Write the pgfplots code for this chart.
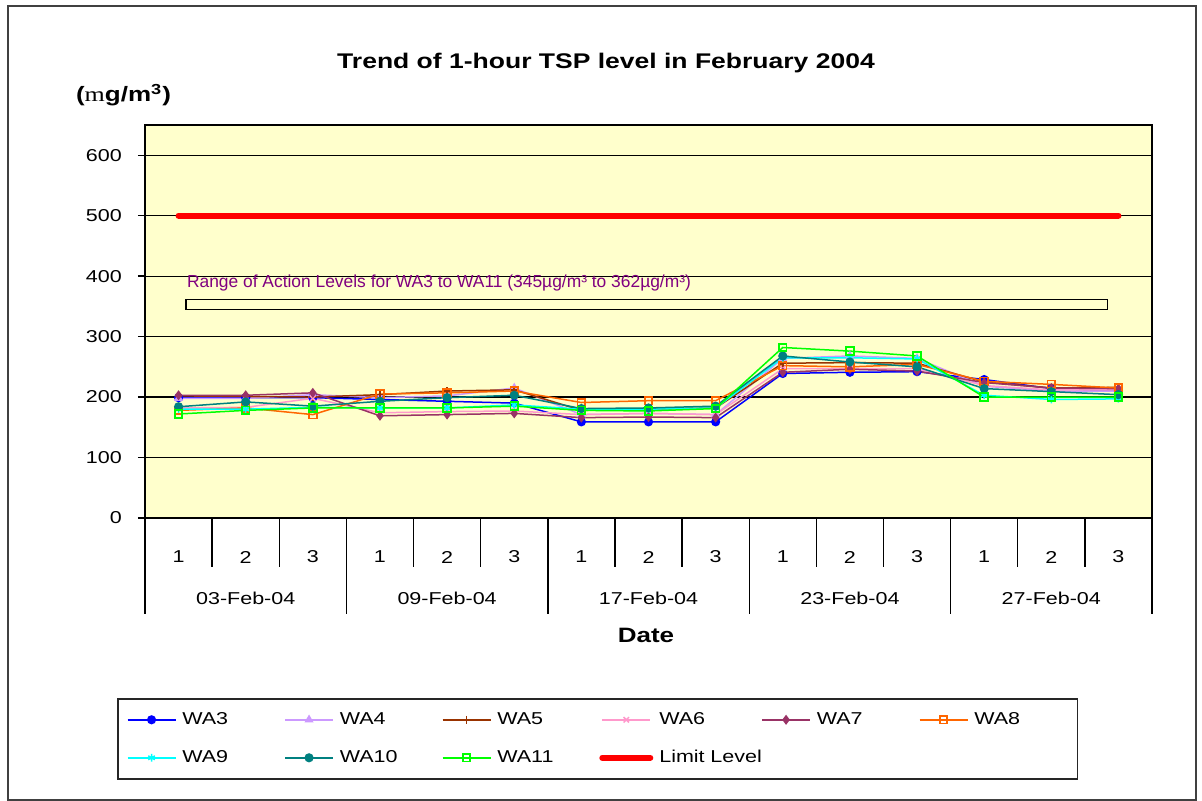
\documentclass[border=0pt]{standalone}
\usepackage{fontspec}
\setmainfont{Liberation Sans}[FakeStretch=1.25]
\newfontfamily\plainsans{Liberation Sans}
\newfontfamily\serifm{Liberation Serif}[FakeStretch=1.25]
\usepackage{pgfplots}
\usepackage{pgfplotstable}
\pgfplotsset{compat=1.18}

\definecolor{bgyel}{RGB}{255,255,204}
\definecolor{waA}{RGB}{0,0,255}
\definecolor{waB}{RGB}{204,153,255}
\definecolor{waC}{RGB}{153,51,0}
\definecolor{waD}{RGB}{255,153,204}
\definecolor{waE}{RGB}{153,51,102}
\definecolor{waF}{RGB}{255,102,0}
\definecolor{waG}{RGB}{0,255,255}
\definecolor{waH}{RGB}{0,128,128}
\definecolor{waI}{RGB}{0,255,0}
\definecolor{actpurple}{RGB}{128,0,128}

% 1-hour TSP, three samples per monitoring day
\pgfplotstableread{
x  wa3 wa4 wa5 wa6 wa7 wa8 wa9 wa10 wa11 lim
0  199 198 202 182 203 178 180 184 172 500
1  199 198 201 183 203 182 180 192 178 500
2  199 204 200 198 207 171 183 185 182 500
3  196 199 204 174 169 205 182 193 182 500
4  193 202 210 176 171 207 182 199 182 500
5  190 215 212 177 173 210 187 203 185 500
6  159 171 178 171 166 191 180 181 178 500
7  159 173 180 173 167 194 180 182 177 500
8  159 171 182 171 166 194 182 185 181 500
9  239 264 256 247 241 252 265 268 282 500
10 241 268 257 247 246 250 265 258 276 500
11 242 264 256 247 243 254 263 250 268 500
12 229 218 225 219 224 226 203 214 200 500
13 214 210 215 212 215 221 196 209 200 500
14 210 210 216 212 214 215 197 204 200 500
}\tspdata

\begin{document}
\begin{tikzpicture}
\path[use as bounding box] (0pt,0pt) rectangle (601pt,400.5pt);
\draw[black!75, line width=0.8pt] (4pt,0.5pt) rectangle (598pt,397.5pt);

\begin{axis}[
  at={(72.5pt,141.5pt)}, anchor=south west,
  scale only axis, width=503.5pt, height=196.5pt,
  xmin=-0.5, xmax=14.5, ymin=0, ymax=650,
  xtick={0,...,14},
  xticklabels={1,2,3,1,2,3,1,2,3,1,2,3,1,2,3},
  xtick style={draw=none},
  xticklabel style={anchor=center, yshift=-16pt},
  ytick={0,100,...,600}, ytick pos=left,
  tick align=outside, major tick length=3.5pt,
  ytick style={black, line width=0.7pt},
  yticklabel style={xshift=-4.6pt},
  ymajorgrids, major grid style={black, line width=0.6pt},
  axis line style={black, line width=0.8pt},
  axis background/.style={fill=bgyel},
  tick label style={font=\fontsize{8.6}{10}\selectfont},
  /pgf/number format/assume math mode=true,
  clip=false,
  every axis plot/.append style={line width=0.75pt, mark size=1.9pt},
  legend columns=6,
  legend image code/.code={\draw[mark repeat=2,mark phase=2] plot coordinates {(0pt,0pt) (12pt,0pt) (24pt,0pt)};},
  legend style={at={(axis description cs:-0.0278,-0.458)}, anchor=north west,
    draw=black!85, line width=0.8pt, inner sep=4.5pt, row sep=7pt,
    font=\fontsize{8.6}{10}\selectfont,
    nodes={text width=44pt, align=left, inner xsep=3pt, inner ysep=2pt, text height=6.5pt, text depth=1.5pt},
    /tikz/every even column/.append style={column sep=4pt}},
]
\addplot[waA, mark=*, mark options={fill=waA}] table[x=x,y=wa3]{\tspdata};
\addlegendentry{WA3}
\addplot[waB, mark=triangle*, mark options={fill=waB}] table[x=x,y=wa4]{\tspdata};
\addlegendentry{WA4}
\addplot[waC, mark=+] table[x=x,y=wa5]{\tspdata};
\addlegendentry{WA5}
\addplot[waD, mark=x] table[x=x,y=wa6]{\tspdata};
\addlegendentry{WA6}
\addplot[waE, mark=diamond*, mark options={fill=waE}] table[x=x,y=wa7]{\tspdata};
\addlegendentry{WA7}
\addplot[waF, mark=square, mark options={line width=0.9pt}] table[x=x,y=wa8]{\tspdata};
\addlegendentry{WA8}
\addplot[waG, mark=asterisk] table[x=x,y=wa9]{\tspdata};
\addlegendentry{WA9}
\addplot[waH, mark=*, mark options={fill=waH}] table[x=x,y=wa10]{\tspdata};
\addlegendentry{WA10}
\addplot[waI, mark=square, mark options={line width=0.9pt}] table[x=x,y=wa11]{\tspdata};
\addlegendentry{WA11}
\addplot[red, line width=3pt, no markers, line cap=round] table[x=x,y=lim]{\tspdata};
\addlegendentry{\makebox[44pt][l]{Limit Level}}

% action level band
\draw[black, line width=0.6pt] (axis cs:0.11,345) rectangle (axis cs:13.84,362);
\node[anchor=west, inner sep=0pt, text=actpurple, font=\plainsans\fontsize{8.7}{10}\selectfont]
  at (axis cs:0.12,388) {Range of Action Levels for WA3 to WA11 (345µg/m³ to 362µg/m³)};

% two-level category axis
\pgfplotsinvokeforeach{0.5,1.5,3.5,4.5,6.5,7.5,9.5,10.5,12.5,13.5}{
  \draw[black, line width=0.7pt] (axis cs:#1,0) -- ++(0pt,-24.5pt);
}
\pgfplotsinvokeforeach{-0.5,2.5,5.5,8.5,11.5,14.5}{
  \draw[black, line width=0.7pt] (axis cs:#1,0) -- ++(0pt,-48pt);
}
\begin{scope}[every node/.style={font=\fontsize{8.6}{10}\selectfont, anchor=center}]
\node at ([yshift=-40pt]axis cs:1,0) {03-Feb-04};
\node at ([yshift=-40pt]axis cs:4,0) {09-Feb-04};
\node at ([yshift=-40pt]axis cs:7,0) {17-Feb-04};
\node at ([yshift=-40pt]axis cs:10,0) {23-Feb-04};
\node at ([yshift=-40pt]axis cs:13,0) {27-Feb-04};
\end{scope}
\end{axis}

\node[font=\bfseries\fontsize{10.6}{12.7}\selectfont] at (303pt,369pt) {Trend of 1-hour TSP level in February 2004};
\node[font=\bfseries\fontsize{10.4}{12.5}\selectfont] at (61.75pt,353pt) {({\serifm\mdseries m}g/m\textsuperscript{3})};
\node[font=\bfseries\fontsize{10.4}{12.5}\selectfont] at (323pt,83pt) {Date};
\end{tikzpicture}
\end{document}
